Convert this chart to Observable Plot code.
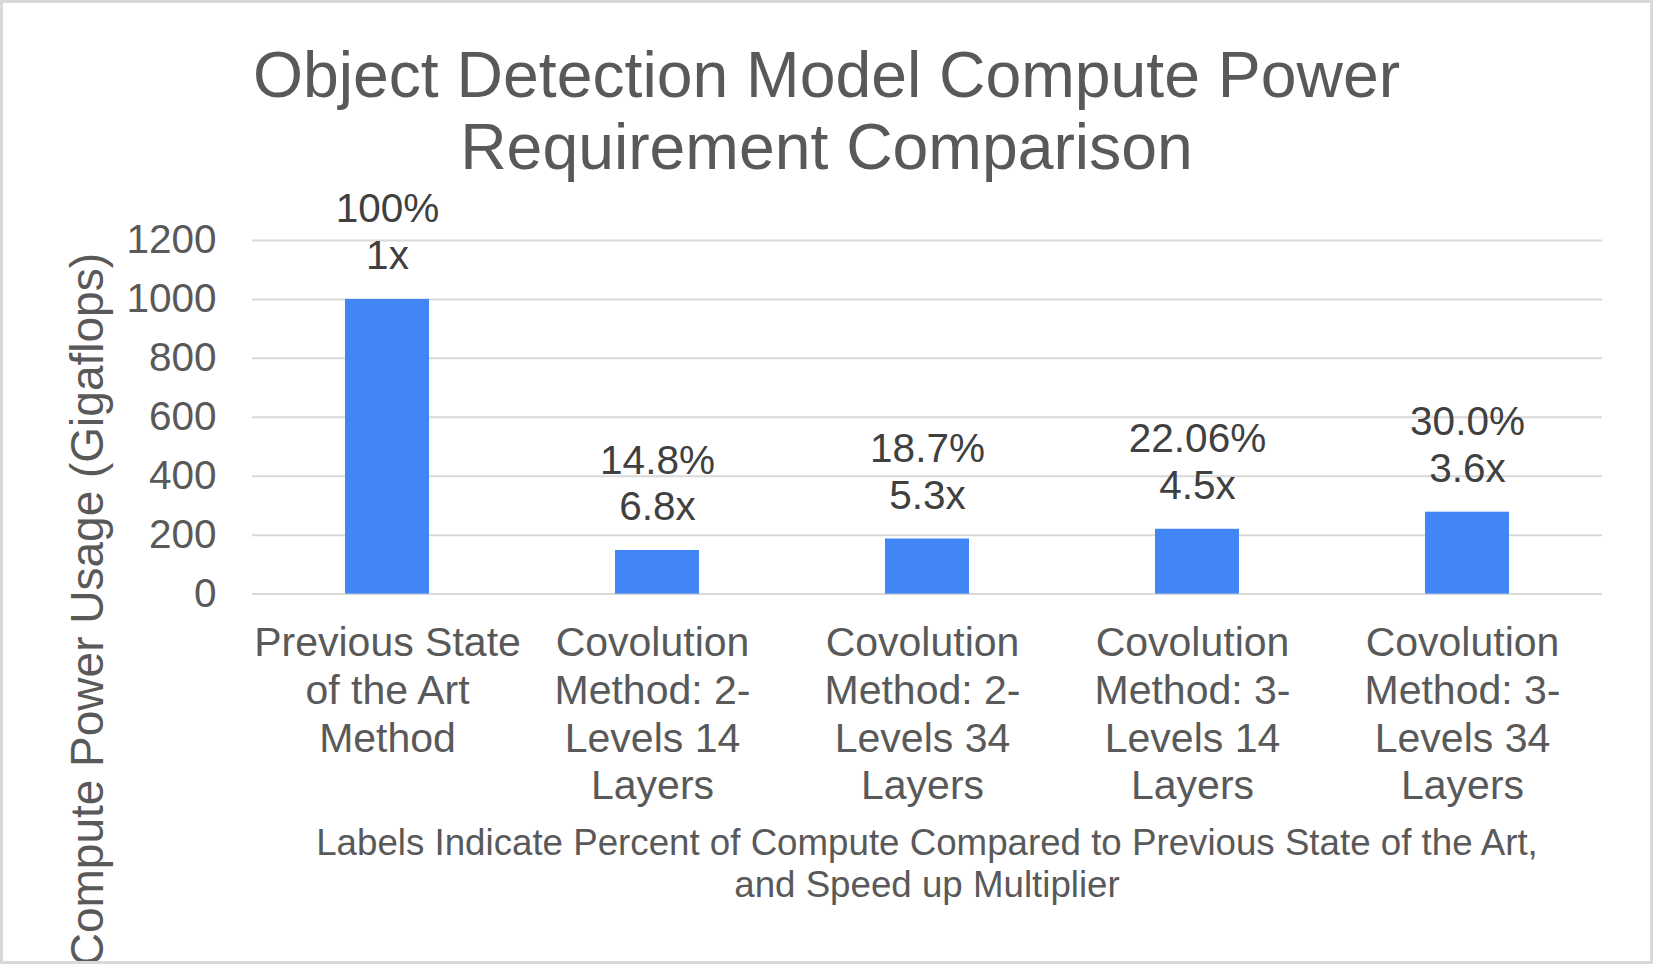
<!DOCTYPE html>
<html><head><meta charset="utf-8">
<script src="https://cdn.jsdelivr.net/npm/d3@7"></script>
<script src="https://cdn.jsdelivr.net/npm/@observablehq/plot@0.6"></script>
<style>
html,body{margin:0;padding:0;background:#fff;}
#wrap{position:relative;width:1653px;height:964px;overflow:hidden;font-family:"Liberation Sans",Arial,sans-serif;background:#fff;}
#chart{position:absolute;left:0;top:0;}
#frame{position:absolute;left:0;top:0;width:1653px;height:964px;box-sizing:border-box;border:3px solid #d9d9d9;pointer-events:none;}
#title{position:absolute;left:0;top:39px;width:1653px;text-align:center;font-size:64.3px;line-height:72px;color:#595959;}
#caption{position:absolute;left:252px;top:822px;width:1350px;text-align:center;font-size:36.7px;line-height:42px;color:#595959;}
#ytitle{position:absolute;left:0;top:0;width:760px;text-align:right;white-space:nowrap;font-size:46px;line-height:46px;color:#595959;transform-origin:0 0;transform:translate(64px,1013px) rotate(-90deg);}
</style></head><body>
<div id="wrap">
  <div id="chart"></div>
  <div id="title">Object Detection Model Compute Power<br>Requirement Comparison</div>
  <div id="ytitle">Compute Power Usage (Gigaflops)</div>
  <div id="caption">Labels Indicate Percent of Compute Compared to Previous State of the Art,<br>and Speed up Multiplier</div>
  <div id="frame"></div>
</div>
<script>
const categories = [
  "Previous State of the Art Method",
  "Covolution Method: 2-Levels 14 Layers",
  "Covolution Method: 2-Levels 34 Layers",
  "Covolution Method: 3-Levels 14 Layers",
  "Covolution Method: 3-Levels 34 Layers"
];
const categoryLabels = [
  "Previous State\nof the Art\nMethod",
  "Covolution\nMethod: 2-\nLevels 14\nLayers",
  "Covolution\nMethod: 2-\nLevels 34\nLayers",
  "Covolution\nMethod: 3-\nLevels 14\nLayers",
  "Covolution\nMethod: 3-\nLevels 34\nLayers"
];
const gigaflops = [1000, 148, 187, 220, 278];
const percentLabels = ["100%", "14.8%", "18.7%", "22.06%", "30.0%"];
const speedupLabels = ["1x", "6.8x", "5.3x", "4.5x", "3.6x"];
const yTicks = [0, 200, 400, 600, 800, 1000, 1200];

const data = categories.map((c, i) => ({
  category: c,
  label: categoryLabels[i],
  value: gigaflops[i],
  text: percentLabels[i] + "\n" + speedupLabels[i]
}));

const labelStyle = {x: "category", text: "label", frameAnchor: "bottom", lineAnchor: "top", dy: 28, fontSize: 41, lineHeight: 1.165, fill: "#595959"};

const chart = Plot.plot({
  width: 1653,
  height: 964,
  marginTop: 240,
  marginBottom: 370.4,
  marginLeft: 252,
  marginRight: 51,
  style: {fontFamily: "'Liberation Sans', Arial, sans-serif", background: "transparent", overflow: "visible"},
  x: {type: "band", domain: categories, paddingInner: 0.689, paddingOuter: 0.3445, axis: null},
  y: {domain: [0, 1200], axis: null},
  marks: [
    Plot.gridY(yTicks, {stroke: "#d9d9d9", strokeOpacity: 1, strokeWidth: 2}),
    Plot.barY(data, {x: "category", y: "value", fill: "#4285f4"}),
    Plot.axisY(yTicks, {tickSize: 0, tickPadding: 36, fontSize: 40.5, color: "#595959", label: null, tickFormat: d => String(d)}),
    Plot.text(data, {x: "category", y: "value", text: "text", lineAnchor: "bottom", dy: -30, fontSize: 40.5, lineHeight: 1.16, fill: "#404040"}),
    Plot.text(data, {...labelStyle, filter: (d, i) => i === 0}),
    Plot.text(data, {...labelStyle, filter: (d, i) => i > 0, dx: -5})
  ]
});
document.getElementById("chart").appendChild(chart);
</script>
</body></html>
